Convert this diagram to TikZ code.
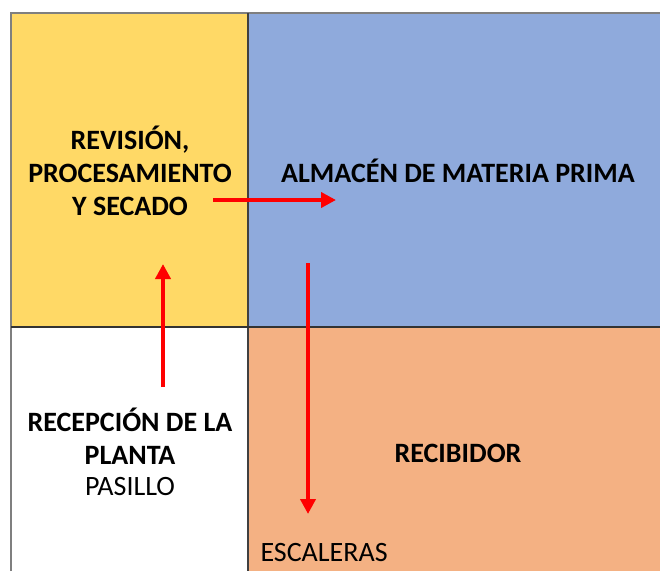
\documentclass[tikz,border=0pt]{standalone}
\usepackage{fontspec}
\setmainfont{Carlito}
\usetikzlibrary{arrows.meta, positioning}

\definecolor{amarillo}{HTML}{FFD966}
\definecolor{azul}{HTML}{8FAADC}
\definecolor{naranja}{HTML}{F4B183}
\definecolor{borde}{HTML}{7F7F7F}

\tikzset{
  zona/.style={font=\fontsize{28}{33}\selectfont\bfseries, align=center},
  nota/.style={font=\fontsize{28}{33}\selectfont},
  flujo/.style={-{Triangle[length=15pt, width=15pt]}, red, line width=4pt},
}

\begin{document}
\begin{tikzpicture}[x=1pt, y=-1pt]
    \useasboundingbox (0,0) rectangle (660,571);

    % fondos de las zonas
    \fill[amarillo] (11,13) rectangle (248,327);
    \fill[azul] (248,13) rectangle (660,327);
    \fill[white] (11,327) rectangle (248,571);
    \fill[naranja] (248,327) rectangle (660,571);

    % paredes
    \draw[borde, line width=2pt] (11,571) -- (11,13) -- (660,13);
    \draw[black!75, line width=1.5pt] (248,13) -- (248,571);
    \draw[black!80, line width=1.5pt] (11,327) -- (660,327);

    % textos
    \node[zona] (revision) at (130,171) {REVISIÓN,\\PROCESAMIENTO\\Y SECADO};
    \node[zona] (almacen) at (458,171) {ALMACÉN DE MATERIA PRIMA};
    \node[zona] (recepcion) at (130,436) {RECEPCIÓN DE LA\\PLANTA};
    \node[nota] (pasillo) at (130,486) {PASILLO};
    \node[zona] (recibidor) at (458,453) {RECIBIDOR};
    \node[nota, anchor=west] (escaleras) at (257,552) {ESCALERAS};

    % puntos de las flechas
    \coordinate (a1) at (163,387);
    \coordinate (a2) at (163,264);
    \coordinate (b1) at (213,200);
    \coordinate (b2) at (336,200);
    \coordinate (c1) at (308,263);
    \coordinate (c2) at (308,514);

    % flujo
    \draw[flujo] (a1) -- (a2);
    \draw[flujo] (b1) -- (b2);
    \draw[flujo] (c1) -- (c2);

\end{tikzpicture}
\end{document}
